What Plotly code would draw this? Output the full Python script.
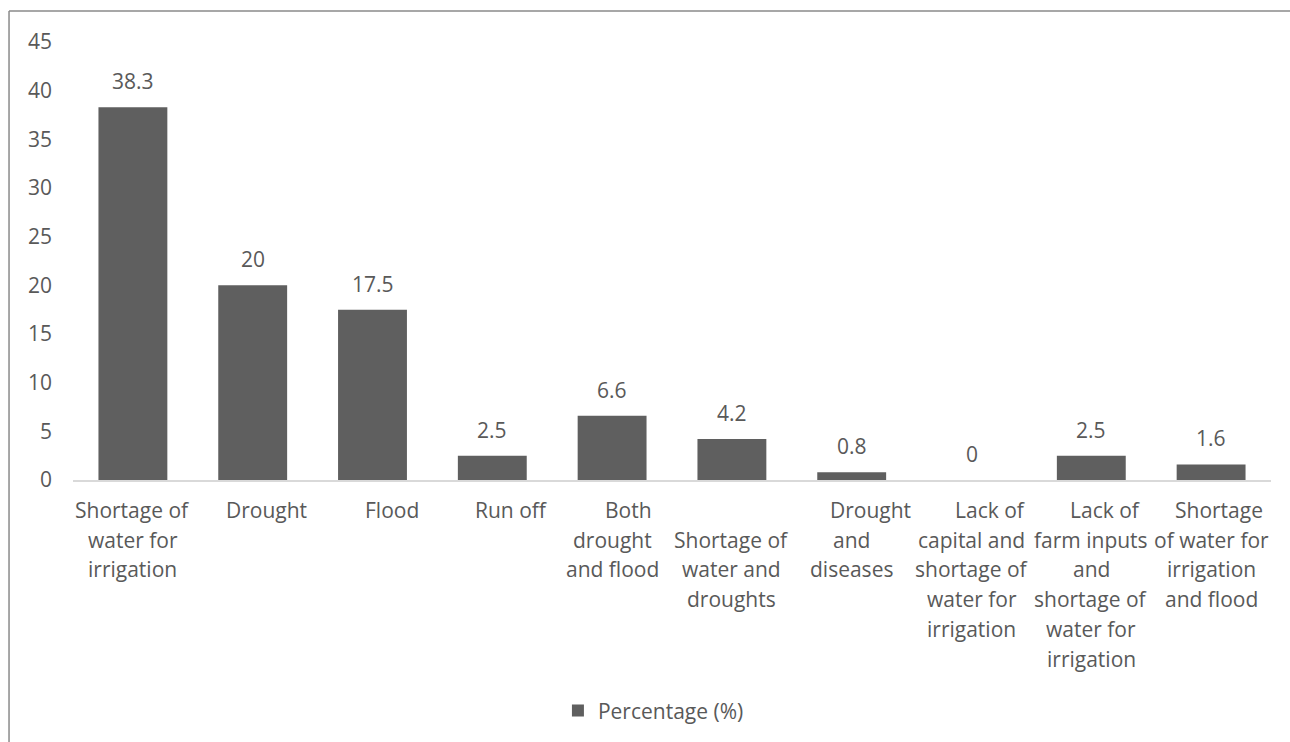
import plotly.graph_objects as go

# ---- data ----
label_lines = [
    ["Shortage of", "water for", "irrigation"],
    ["Drought"],
    ["Flood"],
    ["Run off"],
    ["Both", "drought", "and flood"],
    ["", "Shortage of", "water and", "droughts"],
    ["Drought", "and", "diseases"],
    ["Lack of", "capital and", "shortage of", "water for", "irrigation"],
    ["Lack of", "farm inputs", "and", "shortage of", "water for", "irrigation"],
    ["Shortage", "of water for", "irrigation", "and flood"],
]
categories = [" ".join(l for l in lines if l) for lines in label_lines]
values = [38.3, 20, 17.5, 2.5, 6.6, 4.2, 0.8, 0, 2.5, 1.6]
series_name = "Percentage (%)"
y_ticks = [0, 5, 10, 15, 20, 25, 30, 35, 40, 45]

# ---- style ----
BAR = "#5f5f5f"
TXT = "#595959"
FONT = "Open Sans"
FS = 21
first_line_xshift = [0, 13.5, 19, 19, 16, 0, 18.5, 19, 14, 8]
line_gap = 29.7

fig = go.Figure()
fig.add_trace(go.Bar(x=categories, y=values, name=series_name,
                     marker=dict(color=BAR, line=dict(width=0)),
                     showlegend=True))

annotations = []
# data labels
for c, v in zip(categories, values):
    annotations.append(dict(x=c, y=v, xref="x", yref="y", text=str(v),
                            showarrow=False, yanchor="middle", yshift=26,
                            font=dict(family=FONT, size=FS, color=TXT)))
# wrapped category labels
for i, (c, lines) in enumerate(zip(categories, label_lines)):
    for j, ln in enumerate(lines):
        if not ln:
            continue
        annotations.append(dict(x=c, y=0, xref="x", yref="y", text=ln,
                                showarrow=False, yanchor="middle",
                                yshift=-(30 + j * line_gap),
                                xshift=first_line_xshift[i] if j == 0 else 0,
                                font=dict(family=FONT, size=FS, color=TXT)))

fig.update_layout(
    width=1290, height=742,
    margin=dict(l=73, r=19, t=42, b=262, autoexpand=False),
    paper_bgcolor="white", plot_bgcolor="white",
    font=dict(family=FONT, size=FS, color=TXT),
    bargap=0.425,
    annotations=annotations,
    legend=dict(orientation="h", x=0.4845, xanchor="center", y=-0.527,
                yanchor="middle", font=dict(family=FONT, size=FS, color=TXT),
                bgcolor="rgba(0,0,0,0)"),
    shapes=[
        dict(type="line", xref="paper", yref="paper",
             x0=-0.0534, x1=1.1, y0=1.0708, y1=1.0708,
             line=dict(color="#8a8a8a", width=1.5), layer="below"),
        dict(type="line", xref="paper", yref="paper",
             x0=-0.0534, x1=-0.0534, y0=-1.0, y1=1.0708,
             line=dict(color="#8a8a8a", width=1.5), layer="below"),
    ],
)
fig.update_xaxes(showticklabels=False, ticks="", showgrid=False, zeroline=False,
                 showline=True, linecolor="#d9d9d9", linewidth=1.5)
fig.update_yaxes(range=[0, 45], tickvals=y_ticks, showgrid=False, zeroline=False,
                 showline=False, ticks="", ticklabelstandoff=20,
                 tickfont=dict(family=FONT, size=FS, color=TXT))

fig.write_html("out.html")
